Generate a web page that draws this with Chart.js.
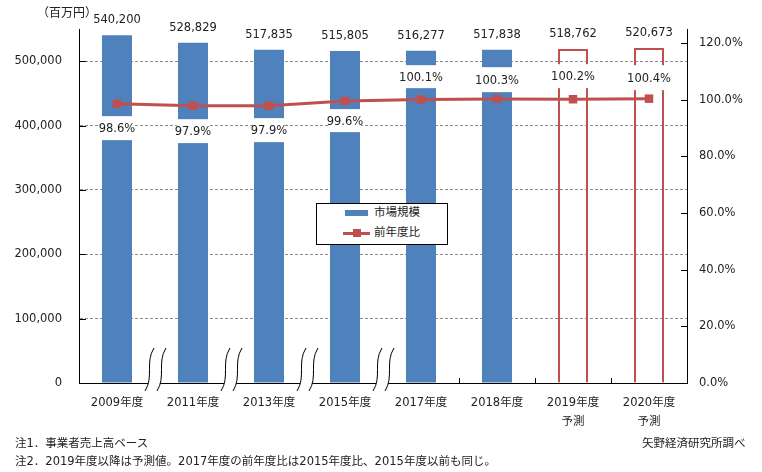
<!DOCTYPE html>
<html>
<head>
<meta charset="utf-8">
<script src="https://cdn.jsdelivr.net/npm/chart.js@4.4.1/dist/chart.umd.min.js"></script>
<style>
  html, body { margin: 0; padding: 0; background: #fff; }
  #wrap { position: relative; width: 762px; height: 472px; font-family: "DejaVu Sans", "Noto Sans CJK JP", sans-serif; color: #222; }
  #c { position: absolute; left: 0; top: 0; }
  .txt { position: absolute; font-size: 11.5px; white-space: nowrap; line-height: 1; }
  #legend { position: absolute; left: 316px; top: 203px; width: 130px; height: 40px; border: 1px solid #000; background: #fff; }
  .lrow { position: absolute; left: 0; font-size: 11.5px; line-height: 1; }
  .sw-bar { position: absolute; width: 23px; height: 6px; background: #4F81BD; }
  .sw-line { position: absolute; width: 27px; height: 3px; background: #C0504D; }
  .sw-mark { position: absolute; width: 8px; height: 8px; background: #C0504D; }
</style>
</head>
<body>
<div id="wrap">
  <canvas id="c" width="762" height="472"></canvas>
  <div class="txt" style="left:37px;top:7px;font-size:12px;">（百万円）</div>
  <div id="legend">
    <div class="sw-bar" style="left:28px;top:6px;"></div>
    <div class="lrow" style="left:57px;top:3px;">市場規模</div>
    <div class="sw-line" style="left:26px;top:28px;"></div>
    <div class="sw-mark" style="left:36px;top:25px;"></div>
    <div class="lrow" style="left:57px;top:23px;">前年度比</div>
  </div>
  <div class="txt" style="left:15px;top:438px;">注1．事業者売上高ベース</div>
  <div class="txt" style="left:15px;top:456px;">注2．2019年度以降は予測値。2017年度の前年度比は2015年度比、2015年度以前も同じ。</div>
  <div class="txt" style="left:642px;top:438px;">矢野経済研究所調べ</div>
</div>
<script>
// ---- data ----
const categories = [['2009年度'], ['2011年度'], ['2013年度'], ['2015年度'], ['2017年度'], ['2018年度'], ['2019年度', '予測'], ['2020年度', '予測']];
const marketActual = [540200, 528829, 517835, 515805, 516277, 517838, null, null];
const marketForecast = [null, null, null, null, null, null, 518762, 520673];
const yoyRatio = [98.6, 97.9, 97.9, 99.6, 100.1, 100.3, 100.2, 100.4];
// axis-break (white gap) ranges in each bar, in 百万円
const breakLow = [377300, 372700, 374200, 389800, 458100, 451900, 458100, 455000];
const breakHigh = [414600, 409900, 411500, 425500, 493800, 490700, 495300, 493800];
// tick values
const leftTicks = [0, 100000, 200000, 300000, 400000, 500000];
const rightTicks = [0, 20, 40, 60, 80, 100, 120];
// category boundaries that carry an axis-break squiggle (after index)
const squiggleAfter = [0, 1, 2, 3];
const plainTickAfter = [4, 5, 6];

const BLUE = '#4F81BD';
const RED = '#C0504D';
const FONT = '"DejaVu Sans", "Noto Sans CJK JP", sans-serif';

const decoPlugin = {
  id: 'deco',
  afterDatasetsDraw(chart) {
    const ctx = chart.ctx;
    const xs = chart.scales.x, ys = chart.scales.y, y1 = chart.scales.y1;
    const area = chart.chartArea;
    ctx.save();
    // inward y ticks
    ctx.strokeStyle = '#000';
    ctx.lineWidth = 1;
    ys.ticks.forEach(t => {
      const py = Math.round(ys.getPixelForValue(t.value)) + 0.5;
      ctx.beginPath(); ctx.moveTo(area.left, py); ctx.lineTo(area.left + 7, py); ctx.stroke();
    });
    y1.ticks.forEach(t => {
      const py = Math.round(y1.getPixelForValue(t.value)) + 0.5;
      ctx.beginPath(); ctx.moveTo(area.right - 6, py); ctx.lineTo(area.right, py); ctx.stroke();
    });
    // x ticks between categories
    plainTickAfter.forEach(i => {
      const px = Math.round((xs.getPixelForValue(i) + xs.getPixelForValue(i + 1)) / 2) + 0.5;
      ctx.beginPath(); ctx.moveTo(px, area.bottom); ctx.lineTo(px, area.bottom - 5); ctx.stroke();
    });
    // squiggles
    squiggleAfter.forEach(i => {
      const cx = (xs.getPixelForValue(i) + xs.getPixelForValue(i + 1)) / 2 + 1;
      const yb = area.bottom + 8, yt = area.bottom - 35;
      const curve = (dx) => [
        [cx + dx - 5, yb],
        [cx + dx + 4, yb - 14],
        [cx + dx - 5, yt + 14],
        [cx + dx + 4, yt]
      ];
      const a = curve(-6), b = curve(6);
      ctx.fillStyle = '#fff';
      ctx.beginPath();
      ctx.moveTo(a[0][0], a[0][1]);
      ctx.bezierCurveTo(a[1][0], a[1][1], a[2][0], a[2][1], a[3][0], a[3][1]);
      ctx.lineTo(b[3][0], b[3][1]);
      ctx.bezierCurveTo(b[2][0], b[2][1], b[1][0], b[1][1], b[0][0], b[0][1]);
      ctx.closePath();
      ctx.fill();
      ctx.strokeStyle = '#000';
      [a, b].forEach(c => {
        ctx.beginPath();
        ctx.moveTo(c[0][0], c[0][1]);
        ctx.bezierCurveTo(c[1][0], c[1][1], c[2][0], c[2][1], c[3][0], c[3][1]);
        ctx.stroke();
      });
    });
    // value labels
    ctx.fillStyle = '#222';
    ctx.font = '11.5px ' + FONT;
    ctx.textAlign = 'center';
    ctx.textBaseline = 'middle';
    [0, 1].forEach(di => {
      const meta = chart.getDatasetMeta(di);
      const data = chart.data.datasets[di].data;
      meta.data.forEach((el, idx) => {
        if (data[idx] == null) return;
        ctx.fillText(data[idx].toLocaleString('en-US'), el.x, el.y - 15);
      });
    });
    // ratio labels inside the break gap
    yoyRatio.forEach((v, idx) => {
      const px = xs.getPixelForValue(idx);
      const py = (ys.getPixelForValue(breakLow[idx]) + ys.getPixelForValue(breakHigh[idx])) / 2 + 1;
      ctx.fillText(v.toFixed(1) + '%', px, py);
    });
    ctx.restore();
  }
};

new Chart(document.getElementById('c'), {
  data: {
    labels: categories,
    datasets: [
      {
        type: 'bar', label: '市場規模', data: marketActual, yAxisID: 'y',
        backgroundColor: BLUE, borderWidth: 0, order: 3,
        barPercentage: 0.395, categoryPercentage: 1
      },
      {
        type: 'bar', label: '市場規模（予測）', data: marketForecast, yAxisID: 'y',
        backgroundColor: 'rgba(255,255,255,0)', borderColor: RED, borderWidth: 2, borderSkipped: 'start', order: 2,
        barPercentage: 0.395, categoryPercentage: 1
      },
      {
        type: 'bar', label: 'break', data: breakLow.map((l, i) => [l, breakHigh[i]]), yAxisID: 'y',
        backgroundColor: '#fff', borderWidth: 0, order: 1,
        barPercentage: 0.42, categoryPercentage: 1
      },
      {
        type: 'line', label: '前年度比', data: yoyRatio, yAxisID: 'y1',
        borderColor: RED, backgroundColor: RED, borderWidth: 3, tension: 0,
        pointStyle: 'rect', pointRadius: 6, pointBackgroundColor: RED, pointBorderWidth: 0, order: 0
      }
    ]
  },
  options: {
    responsive: false,
    animation: false,
    datasets: { bar: { grouped: false } },
    layout: { padding: { top: 29, left: 0, right: 0, bottom: 0 } },
    plugins: { legend: { display: false }, tooltip: { enabled: false } },
    scales: {
      x: {
        type: 'category', offset: true,
        grid: { display: false, drawTicks: false },
        border: { display: true, color: '#000', width: 1 },
        ticks: { color: '#222', font: { family: FONT, size: 11.5, lineHeight: 1.6 }, padding: 11, maxRotation: 0, autoSkip: false },
        afterFit(s) { s.height = 89; }
      },
      y: {
        type: 'linear', position: 'left', min: 0, max: 550000,
        grid: { display: true, drawTicks: false, color: '#8c8c8c', lineWidth: 1 },
        border: { display: true, color: '#000', width: 1, dash: [3, 2] },
        ticks: {
          padding: 17, color: '#222',
          font: { family: FONT, size: 11.5 },
          callback: v => v.toLocaleString('en-US')
        },
        afterBuildTicks(s) { s.ticks = leftTicks.map(v => ({ value: v })); },
        afterFit(s) { s.width = 79; }
      },
      y1: {
        type: 'linear', position: 'right', min: 0, max: 125,
        grid: { display: false, drawTicks: false },
        border: { display: true, color: '#000', width: 1 },
        ticks: {
          padding: 12, color: '#222',
          font: { family: FONT, size: 11.5 },
          callback: v => v.toFixed(1) + '%'
        },
        afterBuildTicks(s) { s.ticks = rightTicks.map(v => ({ value: v })); },
        afterFit(s) { s.width = 75; }
      }
    }
  },
  plugins: [decoPlugin]
});
</script>
</body>
</html>
